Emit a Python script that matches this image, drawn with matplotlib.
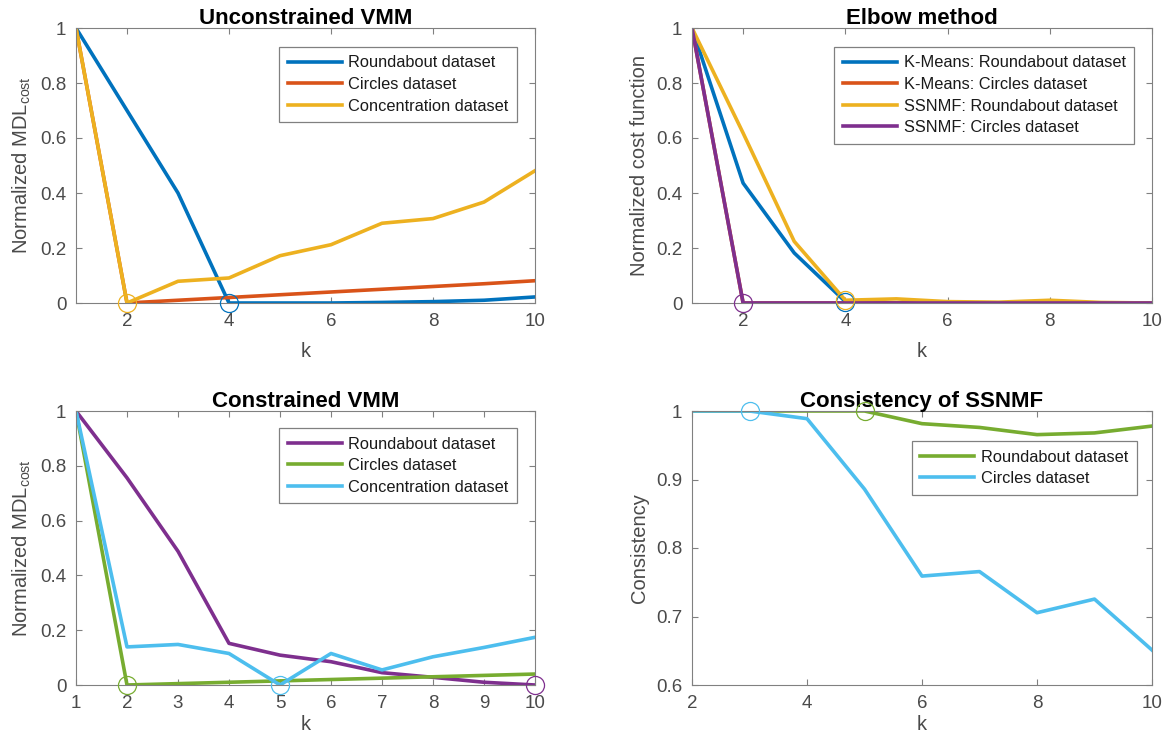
import matplotlib as mpl
mpl.use('Agg')
import matplotlib.pyplot as plt
import numpy as np
from matplotlib.ticker import FormatStrFormatter

mpl.rcParams['font.family'] = ['Liberation Sans', 'DejaVu Sans']
mpl.rcParams['mathtext.default'] = 'regular'

# MATLAB default line colours
blue = '#0072BD'
orange = '#D95319'
yellow = '#EDB120'
purple = '#7E2F8E'
green = '#77AC30'
cyan = '#4DBEEE'
spine_col = '#808080'
text_col = '#4a4a4a'

k = np.arange(1, 11)
k_cons = np.arange(2, 11)

# unconstrained VMM, normalized MDL cost
uvmm_roundabout = [1.0, 0.70, 0.40, 0.0, 0.0, 0.0, 0.002, 0.005, 0.01, 0.022]
uvmm_circles = [1.0, 0.0, 0.01, 0.02, 0.03, 0.04, 0.05, 0.06, 0.07, 0.081]
uvmm_concentration = [1.0, 0.0, 0.079, 0.091, 0.172, 0.212, 0.29, 0.307, 0.367, 0.481]
uvmm_best = {'roundabout': 4, 'concentration': 2}

# elbow method, normalized cost function
km_roundabout = [1.0, 0.436, 0.182, 0.005, 0.0, 0.0, 0.0, 0.0, 0.0, 0.0]
km_circles = [1.0, 0.0, 0.0, 0.0, 0.0, 0.0, 0.0, 0.0, 0.0, 0.0]
ss_roundabout = [1.0, 0.618, 0.224, 0.01, 0.015, 0.005, 0.003, 0.01, 0.002, 0.0]
ss_circles = [1.0, 0.0, 0.0, 0.0, 0.0, 0.0, 0.0, 0.0, 0.0, 0.0]
elbow_best = {'km_roundabout': 4, 'ss_roundabout': 4, 'ss_circles': 2}

# constrained VMM, normalized MDL cost
cvmm_roundabout = [1.0, 0.756, 0.488, 0.152, 0.109, 0.085, 0.045, 0.028, 0.01, 0.0]
cvmm_circles = [1.0, 0.0, 0.005, 0.01, 0.015, 0.02, 0.025, 0.03, 0.035, 0.04]
cvmm_concentration = [1.0, 0.139, 0.148, 0.115, 0.0, 0.115, 0.055, 0.103, 0.137, 0.174]
cvmm_best = {'roundabout': 10, 'circles': 2, 'concentration': 5}

# consistency of SSNMF, k = 2..10
cons_roundabout = [1.0, 1.0, 1.0, 1.0, 0.9815, 0.976, 0.9655, 0.968, 0.978]
cons_circles = [1.0, 1.0, 0.9888, 0.886, 0.759, 0.7656, 0.7055, 0.7254, 0.651]
cons_best = {'roundabout': 5, 'circles': 3}

W, H = 1170, 743
fig = plt.figure(figsize=(W / 100, H / 100), dpi=100)


def make_axes(left, top, right, bottom):
    return fig.add_axes([left / W, 1 - bottom / H, (right - left) / W, (bottom - top) / H])


def style(ax, xlim, ylim, xticks, yticks, title, ylabel, xpad):
    ax.set_xlim(*xlim)
    ax.set_ylim(*ylim)
    ax.set_xticks(xticks)
    ax.set_yticks(yticks)
    ax.yaxis.set_major_formatter(FormatStrFormatter('%g'))
    ax.tick_params(direction='in', top=True, right=True, length=4, width=0.8,
                   color=spine_col, labelcolor=text_col, labelsize=13.5, pad=7)
    for sp in ax.spines.values():
        sp.set_color(spine_col)
        sp.set_linewidth(0.8)
    ax.set_title(title, fontsize=16, fontweight='bold', pad=3)
    ax.set_xlabel('k', fontsize=14.5, color=text_col, labelpad=xpad)
    ax.set_ylabel(ylabel, fontsize=14.5, color=text_col, labelpad=5)


def legend(ax, anchor):
    leg = ax.legend(loc='upper right', bbox_to_anchor=anchor, fontsize=11.8,
                    fancybox=False, framealpha=1, edgecolor=spine_col,
                    handlelength=3.3, handletextpad=0.4, labelspacing=0.4,
                    borderpad=0.52, borderaxespad=0)
    leg.get_frame().set_linewidth(0.9)
    for t in leg.get_texts():
        t.set_color('#1a1a1a')


def best_marker(ax, x, xs, ys, color):
    y = ys[list(xs).index(x)]
    ax.plot(x, y, 'o', ms=13, mfc='none', mec=color, mew=0.9, clip_on=False, zorder=5)


lw = 2.6
mdl_label = 'Normalized MDL$_{cost}$'

# top left
ax = make_axes(76, 28, 535, 303)
ax.plot(k, uvmm_roundabout, color=blue, lw=lw, label='Roundabout dataset')
ax.plot(k, uvmm_circles, color=orange, lw=lw, label='Circles dataset')
ax.plot(k, uvmm_concentration, color=yellow, lw=lw, label='Concentration dataset')
best_marker(ax, uvmm_best['concentration'], k, uvmm_concentration, yellow)
best_marker(ax, uvmm_best['roundabout'], k, uvmm_roundabout, blue)
style(ax, (1, 10), (0, 1), [2, 4, 6, 8, 10], np.arange(0, 1.01, 0.2),
      'Unconstrained VMM', mdl_label, 9)
legend(ax, (0.961, 0.931))

# top right
ax = make_axes(692, 28, 1152, 303)
ax.plot(k, km_roundabout, color=blue, lw=lw, label='K-Means: Roundabout dataset')
ax.plot(k, km_circles, color=orange, lw=lw, label='K-Means: Circles dataset')
ax.plot(k, ss_roundabout, color=yellow, lw=lw, label='SSNMF: Roundabout dataset')
ax.plot(k, ss_circles, color=purple, lw=lw, label='SSNMF: Circles dataset')
best_marker(ax, elbow_best['km_roundabout'], k, km_roundabout, blue)
best_marker(ax, elbow_best['ss_roundabout'], k, ss_roundabout, yellow)
best_marker(ax, elbow_best['ss_circles'], k, ss_circles, purple)
style(ax, (1, 10), (0, 1), [2, 4, 6, 8, 10], np.arange(0, 1.01, 0.2),
      'Elbow method', 'Normalized cost function', 9)
legend(ax, (0.961, 0.931))

# bottom left
ax = make_axes(76, 411, 535, 685)
ax.plot(k, cvmm_roundabout, color=purple, lw=lw, label='Roundabout dataset')
ax.plot(k, cvmm_circles, color=green, lw=lw, label='Circles dataset')
ax.plot(k, cvmm_concentration, color=cyan, lw=lw, label='Concentration dataset')
best_marker(ax, cvmm_best['circles'], k, cvmm_circles, green)
best_marker(ax, cvmm_best['concentration'], k, cvmm_concentration, cyan)
best_marker(ax, cvmm_best['roundabout'], k, cvmm_roundabout, purple)
style(ax, (1, 10), (0, 1), k, np.arange(0, 1.01, 0.2),
      'Constrained VMM', mdl_label, 2)
legend(ax, (0.961, 0.938))

# bottom right
ax = make_axes(692, 411, 1152, 685)
ax.plot(k_cons, cons_roundabout, color=green, lw=lw, label='Roundabout dataset')
ax.plot(k_cons, cons_circles, color=cyan, lw=lw, label='Circles dataset')
best_marker(ax, cons_best['circles'], k_cons, cons_circles, cyan)
best_marker(ax, cons_best['roundabout'], k_cons, cons_roundabout, green)
style(ax, (2, 10), (0.6, 1), [2, 4, 6, 8, 10], np.arange(0.6, 1.01, 0.1),
      'Consistency of SSNMF', 'Consistency', 2)
legend(ax, (0.967, 0.89))

fig.savefig('out.png', dpi=100)
